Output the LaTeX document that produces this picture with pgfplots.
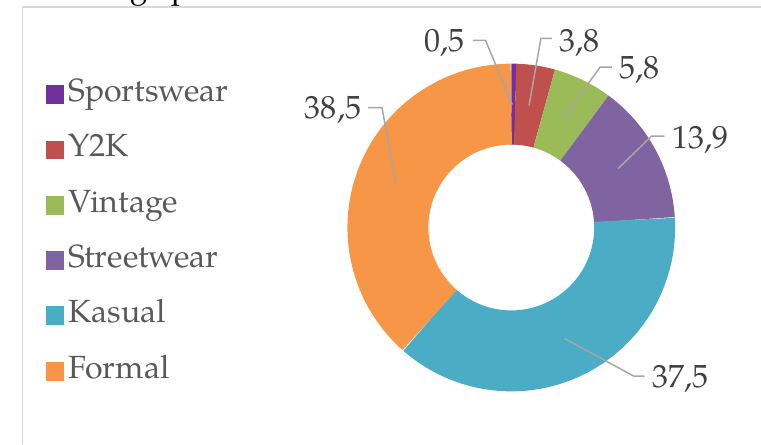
\documentclass[border=0pt]{standalone}
\usepackage{fontspec}
\setmainfont{texgyrepagella-regular.otf}
\usepackage{pgfplots}
\usepackage{pgfplotstable}
\pgfplotsset{compat=1.18}
\definecolor{col0}{HTML}{7030A0}
\definecolor{col1}{HTML}{C0504D}
\definecolor{col2}{HTML}{9BBB59}
\definecolor{col3}{HTML}{8064A2}
\definecolor{col4}{HTML}{4BACC6}
\definecolor{col5}{HTML}{F79646}
\definecolor{labgray}{HTML}{404040}
\definecolor{leggray}{HTML}{595959}
\definecolor{leadgray}{HTML}{A6A6A6}
\definecolor{framegray}{HTML}{D9D9D9}
\pgfplotstableread{
name value
Sportswear 0.5
Y2K 3.8
Vintage 5.8
Streetwear 13.9
Kasual 37.5
Formal 38.5
}\datatable
\begin{document}
\def\cum{0}
\pgfplotsforeachungrouped \i in {0,1,2,3,4,5}{%
  \pgfmathsetmacro\tmpa{90-3.6*\cum}%
  \expandafter\let\csname thS\i\endcsname\tmpa
  \pgfplotstablegetelem{\i}{value}\of\datatable
  \pgfmathsetmacro\cum{\cum+\pgfplotsretval}%
  \pgfmathsetmacro\tmpb{90-3.6*\cum}%
  \expandafter\let\csname thE\i\endcsname\tmpb
}
\newcommand\lf{\fontsize{32.5}{36}\selectfont}
\newcommand\gf{\fontsize{32.5}{36}\selectfont}
\begin{tikzpicture}
\begin{axis}[
  width=761pt, height=450pt, scale only axis,
  xmin=0, xmax=761, ymin=0, ymax=450,
  hide axis, clip=false,
  legend entries={Sportswear,Y2K,Vintage,Streetwear,Kasual,Formal},
  legend image code/.code={\fill[#1, draw=none, line width=0pt] (0pt,-9.5pt) rectangle (19pt,9.5pt);},
  legend cell align=left,
  legend style={draw=none, fill=none, at={(axis cs:36,214)}, anchor=west,
    inner sep=0pt, row sep=26pt, font=\gf, text=leggray,
    /tikz/every odd column/.append style={column sep=4pt},
    nodes={inner sep=0pt, text height=22pt, text depth=8pt}},
]
% frame
\draw[framegray, line width=1.6pt] (axis cs:13,0) -- (axis cs:13,443) -- (axis cs:761,443);
% donut slices
\pgfplotsinvokeforeach{0,1,2,3,4,5}{
  \addplot[color=col#1, line width=82pt, line cap=butt, line join=round,
    no marks, samples=80, domain=\csname thE#1\endcsname:\csname thS#1\endcsname]
    ({508+125*cos(x)},{219.5+125*sin(x)});
}
% leader lines
\begin{scope}[leadgray, line width=1.5pt]
\draw (axis cs:469,409) -- (axis cs:482,409) -- (axis cs:509,344);
\draw (axis cs:549,411) -- (axis cs:538,411) -- (axis cs:526,343);
\draw (axis cs:610,382) -- (axis cs:598,382) -- (axis cs:562,332);
\draw (axis cs:663,312) -- (axis cs:650,312) -- (axis cs:616,279);
\draw (axis cs:363,341) -- (axis cs:377,341) -- (axis cs:391,264);
\draw (axis cs:643,69) -- (axis cs:632,69) -- (axis cs:562,107);
\end{scope}
% data labels
\begin{scope}[every node/.style={text=labgray, font=\lf, inner sep=0pt}]
\node[anchor=base east] at (axis cs:461,398) {0,5};
\node[anchor=base west] at (axis cs:557,398) {3,8};
\node[anchor=base west] at (axis cs:617,370) {5,8};
\node[anchor=base west] at (axis cs:671,300) {13,9};
\node[anchor=base east] at (axis cs:356,330) {38,5};
\node[anchor=base west] at (axis cs:651,57) {37,5};
\end{scope}
% cut-off text above the chart
\node[anchor=base, inner sep=0pt, font=\fontsize{32}{36}\selectfont, text=black] at (axis cs:131,453) {g};
\node[anchor=base west, inner sep=0pt, font=\fontsize{32}{36}\selectfont, text=black] at (axis cs:164,453) {p};
\end{axis}
\pgfresetboundingbox
\path[use as bounding box] (current axis.south west) rectangle (current axis.north east);
\end{tikzpicture}
\end{document}
